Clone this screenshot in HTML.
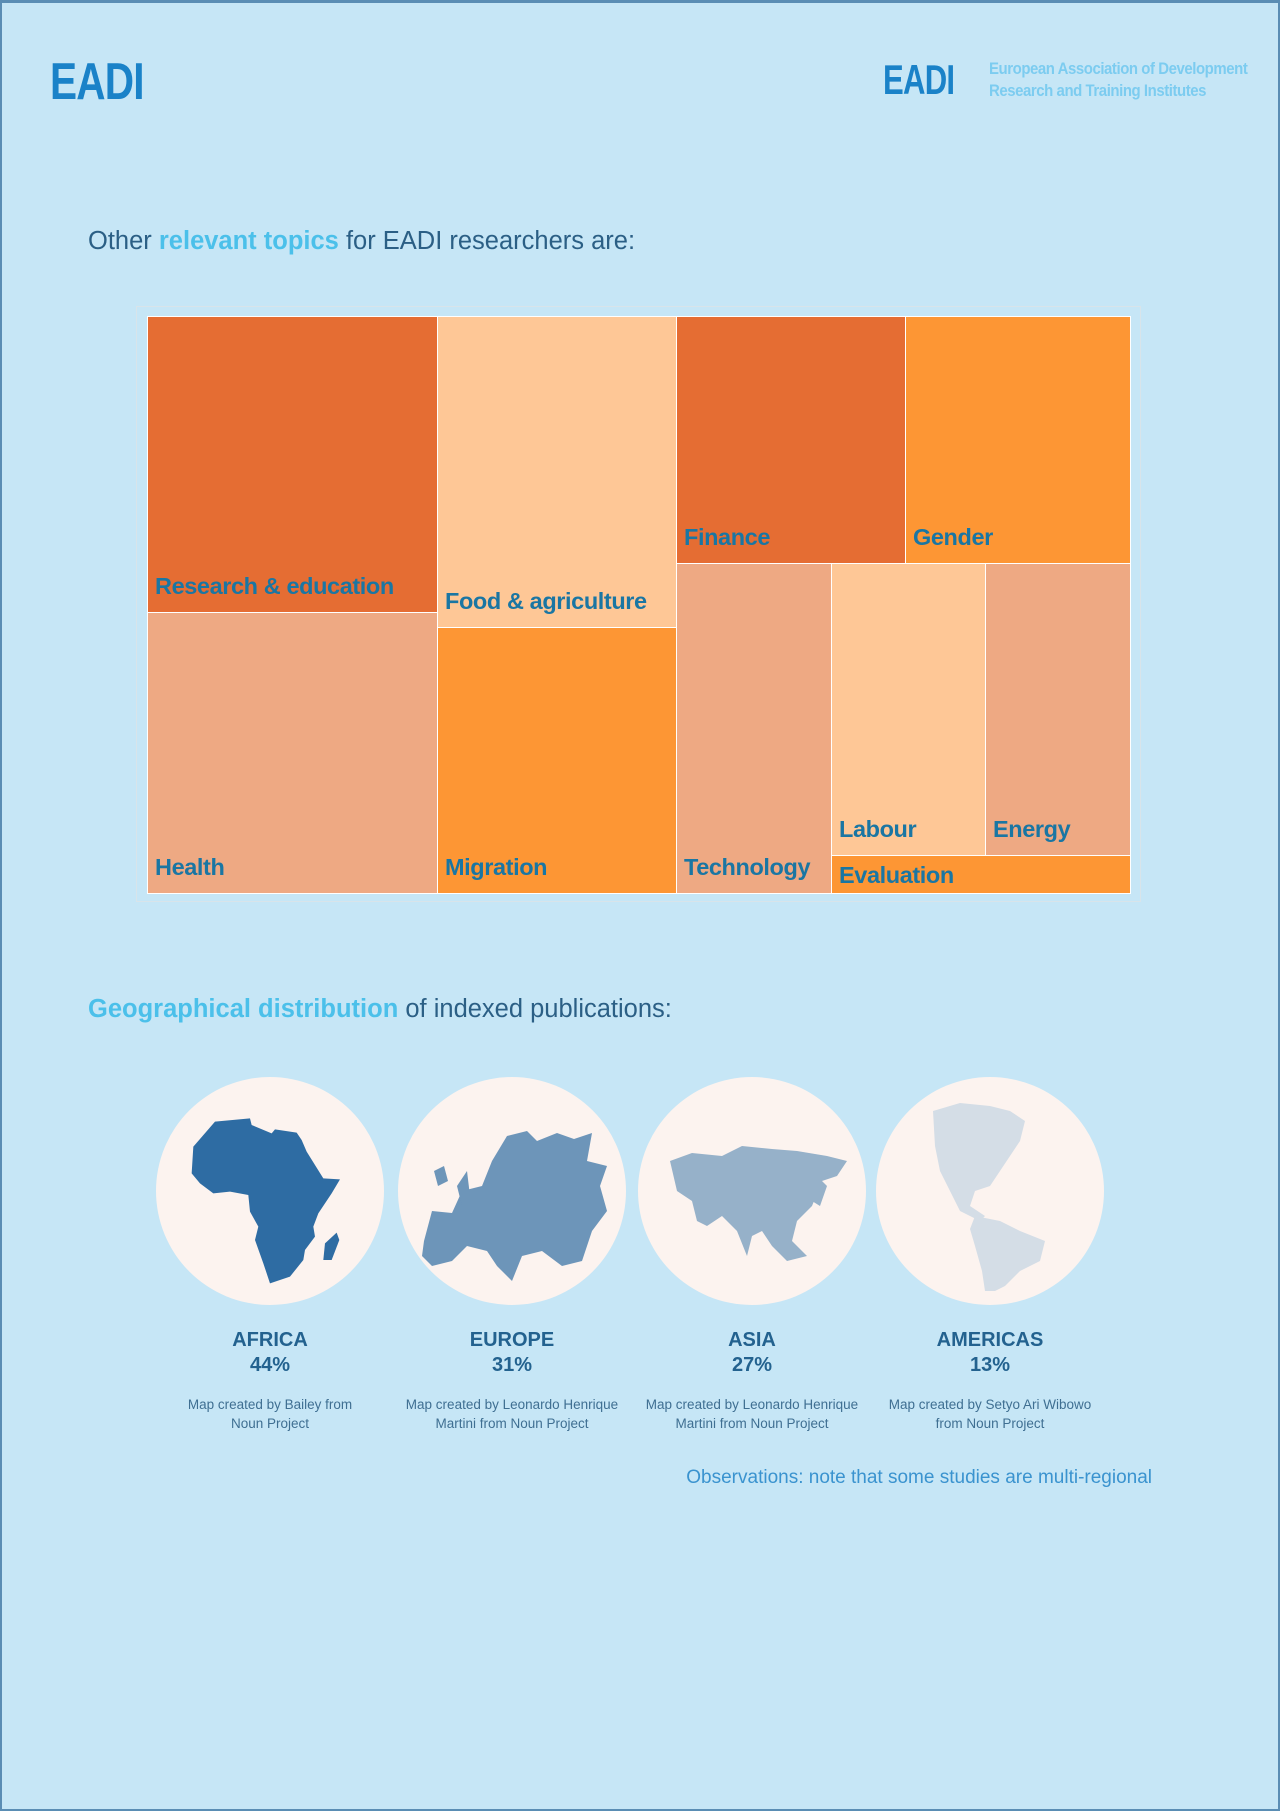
<!DOCTYPE html>
<html><head><meta charset="utf-8"><style>
*{margin:0;padding:0;box-sizing:border-box}
body{width:1280px;height:1811px;background:#c6e6f6;position:relative;font-family:"Liberation Sans",sans-serif;overflow:hidden}
.frame{position:absolute;left:0;top:0;width:1280px;height:1811px;border:2px solid #5a8db4;border-top-width:3px}
.abs{position:absolute}
.logo{font-weight:bold;color:#1a82c8;letter-spacing:-1px;transform-origin:left top}
.t{position:absolute;border:1.5px solid #fff}
.lb{position:absolute;left:7px;bottom:12px;font-weight:bold;color:#1a76a3;font-size:23.5px;letter-spacing:-0.4px;white-space:nowrap}
.h{font-size:25.5px;color:#2b5f85;white-space:nowrap}
.h b{color:#4bc0ea;font-weight:bold}
.cn{position:absolute;width:240px;text-align:center;color:#23628f;font-weight:bold;font-size:20px;line-height:25px}
.cr{position:absolute;width:240px;text-align:center;color:#3f6f92;font-size:13.5px;line-height:19px;white-space:nowrap}
</style></head><body>
<div class="frame"></div>
<div class="abs logo" style="left:50px;top:52px;font-size:52px;transform:scaleX(0.78)">EADI</div>
<div class="abs logo" style="left:883px;top:56px;font-size:42px;transform:scaleX(0.74)">EADI</div>
<div class="abs" style="left:989px;top:58px;color:#7cccf0;font-weight:bold;font-size:17px;line-height:22px;letter-spacing:-0.5px;transform:scaleX(0.88);transform-origin:left top;white-space:nowrap">European Association of Development<br>Research and Training Institutes</div>

<div class="abs h" style="left:88px;top:227px">Other <b>relevant topics</b> for EADI researchers are:</div>

<div class="abs" style="left:136px;top:306px;width:1005px;height:596px;border:1px solid #d8e4ea"></div>
<div class="t" style="left:147px;top:316px;width:291px;height:297px;background:#e56d33"><span class="lb">Research &amp; education</span></div>
<div class="t" style="left:147px;top:612px;width:291px;height:282px;background:#eea983"><span class="lb">Health</span></div>
<div class="t" style="left:437px;top:316px;width:240px;height:312px;background:#fec796"><span class="lb">Food &amp; agriculture</span></div>
<div class="t" style="left:437px;top:627px;width:240px;height:267px;background:#fd9634"><span class="lb">Migration</span></div>
<div class="t" style="left:676px;top:316px;width:230px;height:248px;background:#e56d33"><span class="lb">Finance</span></div>
<div class="t" style="left:905px;top:316px;width:226px;height:248px;background:#fd9634"><span class="lb">Gender</span></div>
<div class="t" style="left:676px;top:563px;width:156px;height:331px;background:#eea983"><span class="lb">Technology</span></div>
<div class="t" style="left:831px;top:563px;width:155px;height:293px;background:#fec796"><span class="lb">Labour</span></div>
<div class="t" style="left:985px;top:563px;width:146px;height:293px;background:#eea983"><span class="lb">Energy</span></div>
<div class="t" style="left:831px;top:855px;width:300px;height:39px;background:#fd9634"><span class="lb" style="bottom:4px">Evaluation</span></div>

<div class="abs h" style="left:88px;top:995px"><b>Geographical distribution</b> of indexed publications:</div>

<svg class="abs" style="left:0;top:0" width="1280" height="1811">
<g fill="#fcf3ef"><circle cx="270" cy="1191" r="114"/><circle cx="512" cy="1191" r="114"/><circle cx="752" cy="1191" r="114"/><circle cx="990" cy="1191" r="114"/></g>
<g transform="translate(150,1080) scale(0.3333)" fill="#2e6ca3">
<path d="M195,125 L300,115 L305,135 L365,160 L375,148 L440,158 L455,180 L470,215 L520,295 L570,298 L545,340 L505,400 L490,440 L495,470 L465,510 L460,540 L420,590 L360,610 L340,550 L315,480 L325,440 L300,395 L295,345 L240,335 L190,340 L150,310 L125,280 L130,200 Z"/>
<path d="M560,458 L568,480 L545,540 L520,540 L525,490 Z"/>
</g>
<g transform="translate(512,1191)" fill="#6d95b9">
<path d="M-88,50 L-80,20 L-60,22 L-50,0 L-30,-5 L-20,-30 L-5,-55 L15,-60 L25,-50 L45,-58 L62,-52 L80,-58 L75,-30 L95,-25 L88,-5 L95,20 L80,40 L70,70 L50,75 L30,60 L10,65 L0,90 L-15,75 L-25,60 L-45,55 L-60,70 L-80,75 L-90,65 Z"/>
<path d="M-78,-20 L-68,-25 L-64,-10 L-74,-5 Z"/>
<path d="M-55,-5 L-45,-20 L-42,5 L-50,15 Z"/>
</g>
<g transform="translate(752,1191)" fill="#96b1c9">
<path d="M-82,-30 L-60,-38 L-30,-35 L-10,-45 L20,-42 L45,-40 L75,-35 L95,-30 L85,-15 L70,-10 L60,15 L45,30 L40,50 L55,65 L35,70 L20,55 L10,40 L0,45 L-5,65 L-15,40 L-30,25 L-45,35 L-55,30 L-60,10 L-75,0 Z"/>
<path d="M65,-15 L75,-5 L68,15 L60,10 Z"/>
</g>
<g transform="translate(990,1191)" fill="#d4dde6">
<path d="M-57,-80 L-30,-88 L0,-85 L20,-80 L35,-70 L30,-50 L20,-35 L10,-20 L0,-5 L-15,0 L-20,15 L-5,25 L-10,30 L-30,20 L-40,0 L-50,-20 L-55,-45 Z"/>
<path d="M-15,25 L10,30 L30,40 L55,50 L50,70 L30,80 L15,95 L5,100 L-5,100 L-8,80 L-15,55 L-20,38 Z"/>
</g>
</svg>

<div class="cn" style="left:150px;top:1328px">AFRICA<br>44%</div>
<div class="cn" style="left:392px;top:1328px">EUROPE<br>31%</div>
<div class="cn" style="left:632px;top:1328px">ASIA<br>27%</div>
<div class="cn" style="left:870px;top:1328px">AMERICAS<br>13%</div>
<div class="cr" style="left:150px;top:1395px">Map created by Bailey from<br>Noun Project</div>
<div class="cr" style="left:392px;top:1395px">Map created by Leonardo Henrique<br>Martini from Noun Project</div>
<div class="cr" style="left:632px;top:1395px">Map created by Leonardo Henrique<br>Martini from Noun Project</div>
<div class="cr" style="left:870px;top:1395px">Map created by Setyo Ari Wibowo<br>from Noun Project</div>
<div class="abs" style="right:128px;top:1467px;color:#3a93cf;font-size:19px;white-space:nowrap">Observations: note that some studies are multi-regional</div>
</body></html>
